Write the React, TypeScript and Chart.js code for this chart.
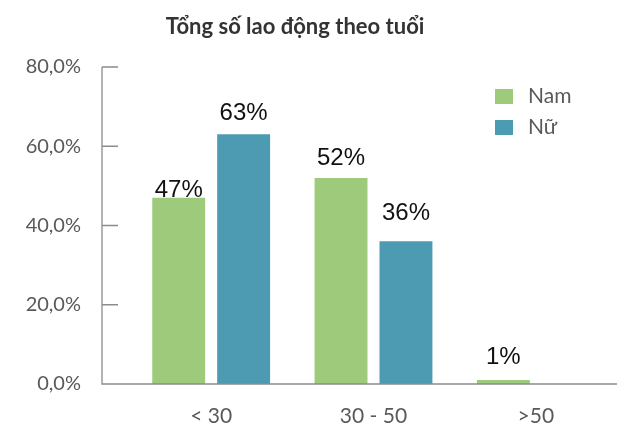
import React, { useEffect, useRef } from "react";
import { Chart, registerables } from "chart.js";

Chart.register(...registerables);

const categories = ["< 30", "30 - 50", ">50"];
const seriesNames = ["Nam", "Nữ"];
const namValues = [47, 52, 1];
const nuValues = [63, 36, 0];
const yTicks = [0, 20, 40, 60, 80];
const title = "Tổng số lao động theo tuổi";

// gap (px) between each value label's baseline and the top of its bar
const namLabelGaps = [1, 13, 16];
const nuLabelGaps = [14, 21, 0];
const labelGaps = [namLabelGaps, nuLabelGaps];

const GREEN = "#9DCB7B";
const TEAL = "#4D9BB3";
const AXIS = "#8C8C8C";
const TEXT = "#595959";
const FONT = "Lato, 'Noto Sans', sans-serif";
const LABEL_FONT = "'Liberation Sans', Arial, sans-serif";

const fmtTick = (v: number) => v.toFixed(1).replace(".", ",") + "%";

const customPlugin = {
  id: "custom",
  afterDraw(chart: any) {
    const ctx = chart.ctx;
    const area = chart.chartArea;
    const y = chart.scales.y;
    const axisX = area.left - 28;
    ctx.save();
    // axes
    ctx.strokeStyle = AXIS;
    ctx.lineWidth = 1.3;
    ctx.beginPath();
    ctx.moveTo(axisX, y.getPixelForValue(80));
    ctx.lineTo(axisX, area.bottom);
    ctx.lineTo(area.right, area.bottom);
    yTicks.forEach((t) => {
      const py = y.getPixelForValue(t);
      ctx.moveTo(axisX, py);
      ctx.lineTo(axisX + 16, py);
    });
    ctx.stroke();

    // data labels
    ctx.fillStyle = "#111";
    ctx.font = `24px ${LABEL_FONT}`;
    ctx.textAlign = "center";
    ctx.textBaseline = "alphabetic";
    chart.data.datasets.forEach((ds: any, i: number) => {
      const meta = chart.getDatasetMeta(i);
      meta.data.forEach((bar: any, j: number) => {
        const v = ds.data[j];
        if (!v) return;
        ctx.fillText(`${v}%`, bar.x, bar.y - labelGaps[i][j]);
      });
    });

    // title
    ctx.fillStyle = "#333";
    ctx.font = `bold 22px ${FONT}`;
    ctx.textBaseline = "middle";
    ctx.fillText(title, 295, 27);

    // legend
    ctx.textAlign = "left";
    ctx.font = `21px ${FONT}`;
    chart.data.datasets.forEach((ds: any, i: number) => {
      const top = 89 + i * 31;
      ctx.fillStyle = ds.backgroundColor;
      ctx.fillRect(495, top, 18, 15);
      ctx.fillStyle = TEXT;
      ctx.fillText(ds.label, 528, top + 7.5);
    });
    ctx.restore();
  },
};

export default function App() {
  const ref = useRef<HTMLCanvasElement>(null);
  useEffect(() => {
    document.body.style.margin = "0";
    const chart = new Chart(ref.current!, {
      type: "bar",
      data: {
        labels: categories,
        datasets: [
          { label: seriesNames[0], data: namValues, backgroundColor: GREEN },
          { label: seriesNames[1], data: nuValues, backgroundColor: TEAL },
        ],
      },
      options: {
        responsive: false,
        animation: false,
        layout: { padding: { top: 67, right: 7, left: 0, bottom: 0 } },
        datasets: {
          bar: { categoryPercentage: 0.8, barPercentage: 0.815 },
        },
        plugins: {
          legend: { display: false },
          title: { display: false },
          tooltip: { enabled: false },
        },
        scales: {
          x: {
            grid: { display: false, drawTicks: false },
            border: { display: false },
            ticks: { color: TEXT, font: { family: FONT, size: 21 }, padding: 20 },
            afterFit: (s: any) => {
              s.height = 44;
            },
          },
          y: {
            min: 0,
            max: 80,
            grid: { display: false, drawTicks: false },
            border: { display: false },
            ticks: {
              stepSize: 20,
              color: TEXT,
              padding: 49,
              font: { family: FONT, size: 20 },
              callback: (v: any) => fmtTick(Number(v)),
            },
            afterFit: (s: any) => {
              s.width = 130;
              s.paddingTop = 0;
              s.paddingBottom = 0;
            },
          },
        },
      },
      plugins: [customPlugin],
    });
    return () => chart.destroy();
  }, []);
  return <canvas ref={ref} width={624} height={428} style={{ display: "block" }} />;
}
